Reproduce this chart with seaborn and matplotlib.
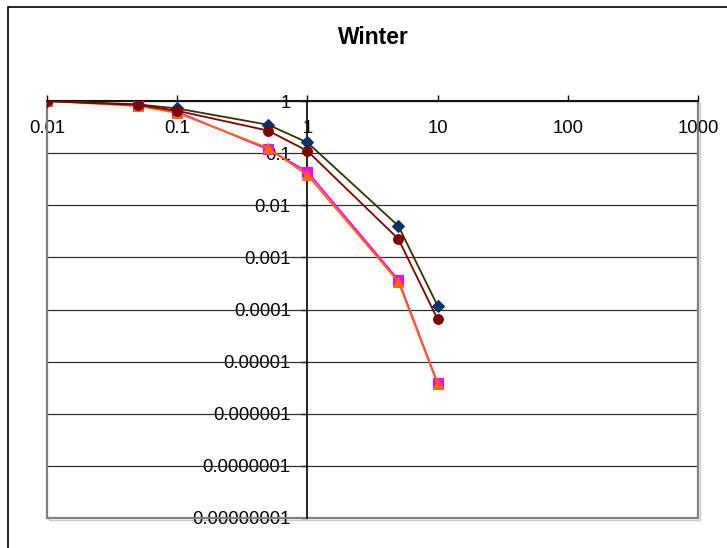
import matplotlib
matplotlib.use("Agg")
import matplotlib.pyplot as plt
from matplotlib.patches import Rectangle
import pandas as pd
import seaborn as sns

# Exceedance data for the winter case
x_vals = [0.01, 0.05, 0.1, 0.5, 1, 5, 10]
series_a = [1.0, 0.86, 0.72, 0.35, 0.16, 0.0040, 1.18e-4]
series_b = [1.0, 0.84, 0.65, 0.27, 0.11, 0.00225, 6.5e-5]
series_c = [1.0, 0.83, 0.62, 0.118, 0.044, 3.67e-4, 3.9e-6]
series_d = [1.0, 0.80, 0.59, 0.125, 0.038, 3.4e-4, 3.7e-6]

x_ticks = [0.01, 0.1, 1, 10, 100, 1000]
x_tick_labels = ["0.01", "0.1", "1", "10", "100", "1000"]
y_ticks = [1, 0.1, 0.01, 0.001, 0.0001, 0.00001, 0.000001, 0.0000001, 0.00000001]
y_tick_labels = ["1", "0.1", "0.01", "0.001", "0.0001", "0.00001",
                 "0.000001", "0.0000001", "0.00000001"]

df = pd.DataFrame({
    "x": x_vals * 4,
    "y": series_a + series_b + series_c + series_d,
    "series": ["a"] * 7 + ["b"] * 7 + ["c"] * 7 + ["d"] * 7,
})

sns.set_theme(style="white")
plt.rcParams["font.family"] = ["Liberation Sans", "DejaVu Sans"]

W, H = 727, 548
fig = plt.figure(figsize=(W / 100, H / 100), dpi=100)
fig.patch.set_facecolor("white")

L, R, T, B = 47, 698, 101, 518
ax = fig.add_axes([L / W, 1 - B / H, (R - L) / W, (B - T) / H])
ax.set_facecolor("white")

styles = {
    "c": dict(color="#FF00FF", marker="s", mfc="#FF00FF", mec="#FF00FF", ms=6.5),
    "d": dict(color="#FF6600", marker="^", mfc="#FF6600", mec="#FF6600", ms=7.5),
    "a": dict(color="#333300", marker="D", mfc="#003366", mec="#003366", ms=6),
    "b": dict(color="#800000", marker="o", mfc="#800000", mec="#800000", ms=7),
}
for key in ["c", "d", "a", "b"]:
    st = styles[key]
    sns.lineplot(data=df[df["series"] == key], x="x", y="y", ax=ax,
                 color=st["color"], marker=st["marker"],
                 markerfacecolor=st["mfc"], markeredgecolor=st["mec"],
                 markersize=st["ms"], linewidth=1.3, legend=False,
                 estimator=None, sort=False, zorder=5)

ax.set_xscale("log")
ax.set_yscale("log")
ax.set_xlim(0.01, 1000)
ax.set_ylim(1e-8, 1)

# horizontal gridlines at each decade
for yv in y_ticks:
    ax.axhline(yv, color="#303030", lw=0.9, zorder=1)

# axes crossing at (1, 1)
for s in ["top", "right"]:
    ax.spines[s].set_visible(False)
for s in ["bottom", "left"]:
    ax.spines[s].set_position(("data", 1))
    ax.spines[s].set_color("black")
    ax.spines[s].set_linewidth(1.2)
    ax.spines[s].set_zorder(3)

ax.set_xticks(x_ticks)
ax.set_xticklabels(x_tick_labels)
ax.set_yticks(y_ticks)
ax.set_yticklabels(y_tick_labels)
ax.minorticks_off()
ax.tick_params(axis="x", direction="in", length=4, width=1, pad=14,
               labelsize=13.3, colors="black", bottom=True)
ax.tick_params(axis="y", direction="out", length=4, width=1, pad=8,
               labelsize=13.3, colors="black", left=True)
ax.set_xlabel("")
ax.set_ylabel("")

# plot area border with a soft shadow
ax.add_patch(Rectangle((0, 0), 1, 1, transform=ax.transAxes, fill=False,
                       edgecolor="#808080", lw=1.6, zorder=2, clip_on=False))
fig.add_artist(Rectangle(((L + 1.5) / W, 1 - (B + 1.5) / H),
                         (R - L) / W, (B - T) / H, transform=fig.transFigure,
                         fill=False, edgecolor="#c8c8c8", lw=1.0, zorder=0))

# chart frame
fig.add_artist(Rectangle((7.5 / W, -0.05), 1.2, 1 - 6.5 / H + 0.05,
                         transform=fig.transFigure, fill=False,
                         edgecolor="black", lw=1.2))

fig.text(373 / W, 1 - 38 / H, "Winter", ha="center", va="center",
         fontsize=16.5, fontweight="bold", color="black")

fig.savefig("out.png", dpi=100)
